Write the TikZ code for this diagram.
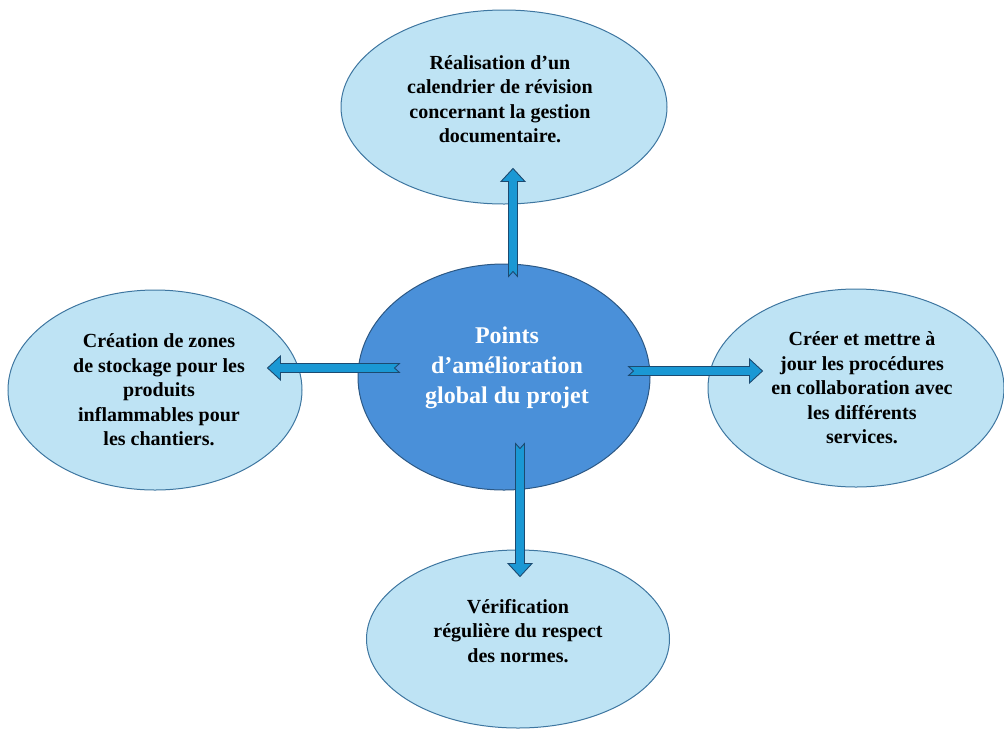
\documentclass[tikz,border=0pt]{standalone}
\usepackage{fontspec}
\setmainfont{Liberation Serif}
\usetikzlibrary{calc,shapes.geometric}

\definecolor{bubblefill}{RGB}{190,227,244}
\definecolor{bubbleline}{RGB}{62,118,160}
\definecolor{hubfill}{RGB}{74,144,217}
\definecolor{hubline}{RGB}{44,88,132}
\definecolor{arrowfill}{RGB}{26,152,212}
\definecolor{arrowline}{RGB}{28,74,112}

\tikzset{
  bubble/.style={ellipse, draw=bubbleline, fill=bubblefill, line width=1pt, inner sep=0pt},
  hub/.style={ellipse, draw=hubline, fill=hubfill, line width=1pt, inner sep=0pt},
  bubbletext/.style={align=center, inner sep=0pt, text=black,
    font=\fontsize{20}{24.5}\selectfont\bfseries},
  hubtext/.style={align=center, inner sep=0pt, text=white,
    font=\fontsize{24}{30}\selectfont\bfseries},
  arrowbody/.style={fill=arrowfill, draw=arrowline, line width=0.9pt, line join=miter},
}

% block arrow with a notched tail, from #1 to #2
\newcommand\blockarrow[2]{%
  \coordinate (ba-s) at (#1);
  \coordinate (ba-e) at (#2);
  \coordinate (ba-h) at ($(ba-e)!13pt!(ba-s)$);
  \coordinate (ba-n) at ($(ba-s)!5pt!(ba-e)$);
  \filldraw[arrowbody]
    ($(ba-s)!4.5pt!90:(ba-e)$) -- ($(ba-h)!4.5pt!90:(ba-e)$) --
    ($(ba-h)!12pt!90:(ba-e)$) -- (ba-e) --
    ($(ba-h)!12pt!-90:(ba-e)$) -- ($(ba-h)!4.5pt!-90:(ba-e)$) --
    ($(ba-s)!4.5pt!-90:(ba-e)$) -- (ba-n) -- cycle;
}

\begin{document}
\begin{tikzpicture}[x=1pt, y=-1pt]
\useasboundingbox (0,0) rectangle (1004,729);

% outer ideas
\node[bubble, minimum width=326pt, minimum height=194pt] (top) at (504,107) {};
\node[bubble, minimum width=294pt, minimum height=200pt] (left) at (155,390) {};
\node[bubble, minimum width=296pt, minimum height=198pt] (right) at (856,388) {};
\node[bubble, minimum width=303pt, minimum height=178pt] (bottom) at (518,639) {};

% central idea
\node[hub, minimum width=292pt, minimum height=226pt] (hub) at (504,377) {};

% arrows from the centre to each idea
\blockarrow{$(hub.north)+(9,13)$}{$(top.south)+(9,-36)$}
\blockarrow{$(hub.west)+(42,-9)$}{$(left.east)+(-35,-22)$}
\blockarrow{$(hub.east)+(-22,-6)$}{$(right.west)+(55,-17)$}
\blockarrow{$(hub.south)+(16,-47)$}{$(bottom.north)+(2,27)$}

% texts
\node[hubtext] (hubtxt) at ($(hub.center)+(3,-9)$)
  {Points\\d’amélioration\\global du projet};
\node[bubbletext] (toptxt) at ($(top.center)+(-4,-8)$)
  {Réalisation d’un\\calendrier de révision\\concernant la gestion\\documentaire.};
\node[bubbletext] (lefttxt) at ($(left.center)+(4,0)$)
  {Création de zones\\de stockage pour les\\produits\\inflammables pour\\les chantiers.};
\node[bubbletext] (righttxt) at ($(right.center)+(6,0)$)
  {Créer et mettre à\\jour les procédures\\en collaboration avec\\les différents\\services.};
\node[bubbletext] (bottomtxt) at ($(bottom.center)+(0,-8)$)
  {Vérification\\régulière du respect\\des normes.};
\end{tikzpicture}
\end{document}
